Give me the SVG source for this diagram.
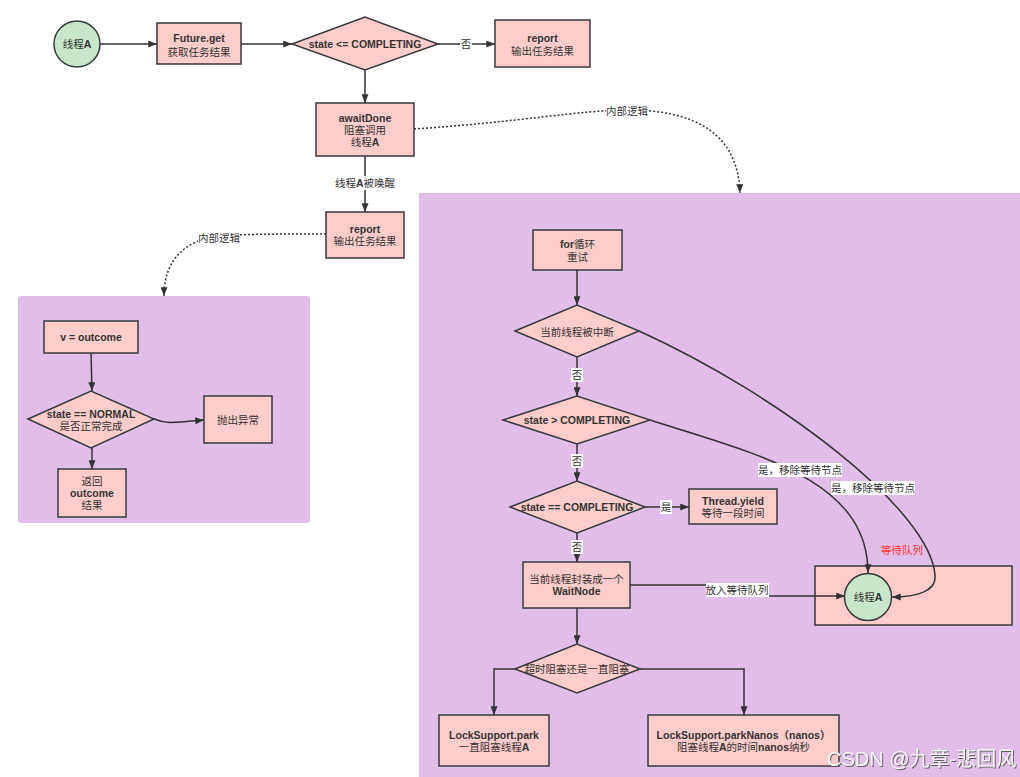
<svg xmlns="http://www.w3.org/2000/svg" width="1020" height="777" viewBox="0 0 1020 777">
<style>
text{font-family:"Liberation Sans","Noto Sans CJK SC",sans-serif;font-size:10.5px;fill:#333;text-anchor:middle}
.b{font-weight:bold}
.box{fill:#FFCCCC;stroke:#36393d;stroke-width:1.5}
.grn{fill:#C8E6C9;stroke:#36393d;stroke-width:1.5}
.cont{fill:#E1BEE7;stroke:none}
.ln{fill:none;stroke:#333;stroke-width:1.5}
.dot{fill:none;stroke:#333;stroke-width:1.5;stroke-dasharray:2 2}
.lbg{fill:#fff}
.red{fill:#FF3333}
.wm{font-size:20px;fill:#f4f4f4;text-anchor:start;font-family:"Liberation Sans","Noto Sans CJK SC",sans-serif}
</style>
<defs>
<marker id="ah" viewBox="0 0 10 8" refX="10" refY="4" markerWidth="9" markerHeight="7" markerUnits="userSpaceOnUse" orient="auto"><path d="M0,0 L10,4 L0,8 Z" fill="#333"/></marker>
<filter id="sh" x="-10%" y="-30%" width="120%" height="160%"><feDropShadow dx="1" dy="1" stdDeviation="0.6" flood-color="#555" flood-opacity="0.9"/></filter>
</defs>
<rect width="1020" height="777" fill="#fff"/>
<g id="containers">
<rect class="cont" x="18" y="296" width="292" height="227" rx="3"/>
<rect class="cont" x="419" y="193" width="610" height="600"/>
</g>
<g id="n-queue"><rect class="box" x="815" y="566" width="197" height="59"/><text class="red" x="902" y="554">等待队列</text></g>
<g id="connectors">
<path class="ln" d="M100,44 L157,44" marker-end="url(#ah)"/>
<path class="ln" d="M241,44 L292,44" marker-end="url(#ah)"/>
<path class="ln" d="M438,44 L495,44" marker-end="url(#ah)"/>
<path class="ln" d="M365,70 L365,103" marker-end="url(#ah)"/>
<path class="ln" d="M365,156 L365,212" marker-end="url(#ah)"/>
<path class="dot" d="M414,129 C520,122 580,110 628,110 C690,110 738,130 740,193" marker-end="url(#ah)"/>
<path class="dot" d="M326,234 C280,234 240,234 219,236 C185,240 164,260 164,296" marker-end="url(#ah)"/>
<path class="ln" d="M91,353 L92,391" marker-end="url(#ah)"/>
<path class="ln" d="M92,448 L92,469" marker-end="url(#ah)"/>
<path class="ln" d="M154,419 C166,424 172,423 204,420" marker-end="url(#ah)"/>
<path class="ln" d="M577,270 L577,305" marker-end="url(#ah)"/>
<path class="ln" d="M577,357 L577,396" marker-end="url(#ah)"/>
<path class="ln" d="M577,444 L577,481" marker-end="url(#ah)"/>
<path class="ln" d="M645,507 L689,507" marker-end="url(#ah)"/>
<path class="ln" d="M577,533 L577,562" marker-end="url(#ah)"/>
<path class="ln" d="M577,608 L577,644" marker-end="url(#ah)"/>
<path class="ln" d="M515,669 L494,669 L494,715" marker-end="url(#ah)"/>
<path class="ln" d="M640,669 L744,669 L744,715" marker-end="url(#ah)"/>
<path class="ln" d="M630,585 L737,585 L737,596 L845,596" marker-end="url(#ah)"/>
<path class="ln" d="M639,331 C780,395 930,510 935,575 C937,592 915,597 892,597" marker-end="url(#ah)"/>
<path class="ln" d="M650,420 C760,455 868,480 868,573" marker-end="url(#ah)"/>
<g id="edge-labels">
<rect class="lbg" x="460" y="37" width="12" height="14"/><text x="466" y="48">否</text>
<rect class="lbg" x="335" y="176" width="60" height="14"/><text x="365" y="187"><tspan>线程</tspan><tspan class="b">A</tspan><tspan>被唤醒</tspan></text>
<rect class="lbg" x="606" y="104" width="42" height="14"/><text x="627" y="115">内部逻辑</text>
<rect class="lbg" x="198" y="231" width="42" height="14"/><text x="219" y="242">内部逻辑</text>
<rect class="lbg" x="571" y="368" width="12" height="14"/><text x="577" y="379">否</text>
<rect class="lbg" x="571" y="454" width="12" height="14"/><text x="577" y="465">否</text>
<rect class="lbg" x="660" y="500" width="12" height="14"/><text x="666" y="511">是</text>
<rect class="lbg" x="571" y="540" width="12" height="14"/><text x="577" y="551">否</text>
<rect class="lbg" x="758" y="463" width="84" height="14"/><text x="800" y="474">是，移除等待节点</text>
<rect class="lbg" x="831" y="481" width="84" height="14"/><text x="873" y="492">是，移除等待节点</text>
<rect class="lbg" x="706" y="583" width="63" height="14"/><text x="737" y="594">放入等待队列</text>
</g>
</g>
<g id="n-threadA"><circle class="grn" cx="77" cy="44" r="23"/><text x="77" y="48"><tspan>线程</tspan><tspan class="b">A</tspan></text></g>
<g id="n-futureget"><rect class="box" x="157" y="23" width="84" height="41"/><text class="b" x="199" y="42">Future.get</text><text x="199" y="56">获取任务结果</text></g>
<g id="n-cond1"><polygon class="box" points="292,44 365,17 438,44 365,70"/><text class="b" x="365" y="48">state &lt;= COMPLETING</text></g>
<g id="n-report1"><rect class="box" x="495" y="20" width="95" height="47"/><text class="b" x="542.5" y="42">report</text><text x="542.5" y="55">输出任务结果</text></g>
<g id="n-awaitdone"><rect class="box" x="316" y="103" width="98" height="53"/><text class="b" x="365" y="122">awaitDone</text><text x="365" y="134">阻塞调用</text><text x="365" y="146"><tspan>线程</tspan><tspan class="b">A</tspan></text></g>
<g id="n-report2"><rect class="box" x="326" y="212" width="78" height="46"/><text class="b" x="365" y="233">report</text><text x="365" y="245">输出任务结果</text></g>
<g id="n-voutcome"><rect class="box" x="44" y="321" width="94" height="32"/><text class="b" x="91" y="341">v = outcome</text></g>
<g id="n-normal"><polygon class="box" points="28,419 91,391 154,419 91,448"/><text class="b" x="91" y="418">state == NORMAL</text><text x="91" y="430">是否正常完成</text></g>
<g id="n-throw"><rect class="box" x="204" y="396" width="68" height="47"/><text x="238" y="424">抛出异常</text></g>
<g id="n-return"><rect class="box" x="58" y="469" width="68" height="48"/><text x="92" y="485">返回</text><text class="b" x="92" y="497">outcome</text><text x="92" y="509">结果</text></g>
<g id="n-for"><rect class="box" x="533" y="230" width="89" height="40"/><text x="577.5" y="248"><tspan class="b">for</tspan><tspan>循环</tspan></text><text x="577.5" y="261">重试</text></g>
<g id="n-interrupt"><polygon class="box" points="515,331 577,305 639,331 577,357"/><text x="577" y="336">当前线程被中断</text></g>
<g id="n-gtcompleting"><polygon class="box" points="503,420 577,396 650,420 577,444"/><text class="b" x="577" y="424">state &gt; COMPLETING</text></g>
<g id="n-eqcompleting"><polygon class="box" points="510,507 577,481 645,507 577,533"/><text class="b" x="577" y="511">state == COMPLETING</text></g>
<g id="n-yield"><rect class="box" x="689" y="489" width="88" height="35"/><text class="b" x="733" y="505">Thread.yield</text><text x="733" y="517">等待一段时间</text></g>
<g id="n-waitnode"><rect class="box" x="523" y="562" width="107" height="46"/><text x="576.5" y="583">当前线程封装成一个</text><text class="b" x="576.5" y="595">WaitNode</text></g>
<g id="n-threadA2"><circle class="grn" cx="868" cy="597" r="23.5"/><text x="868" y="601"><tspan>线程</tspan><tspan class="b">A</tspan></text></g>
<g id="n-timeout"><polygon class="box" points="515,669 577,644 640,669 577,693"/><text x="577" y="673">超时阻塞还是一直阻塞</text></g>
<g id="n-park"><rect class="box" x="439" y="715" width="110" height="51"/><text class="b" x="494" y="739">LockSupport.park</text><text x="494" y="751"><tspan>一直阻塞线程</tspan><tspan class="b">A</tspan></text></g>
<g id="n-parknanos"><rect class="box" x="648" y="715" width="191" height="51"/><text class="b" x="743.5" y="739">LockSupport.parkNanos（nanos）</text><text x="743.5" y="751"><tspan>阻塞线程</tspan><tspan class="b">A</tspan><tspan>的时间</tspan><tspan class="b">nanos</tspan><tspan>纳秒</tspan></text></g>
<text class="wm" x="827" y="766" filter="url(#sh)">CSDN @九章-悲回风</text>
</svg>
